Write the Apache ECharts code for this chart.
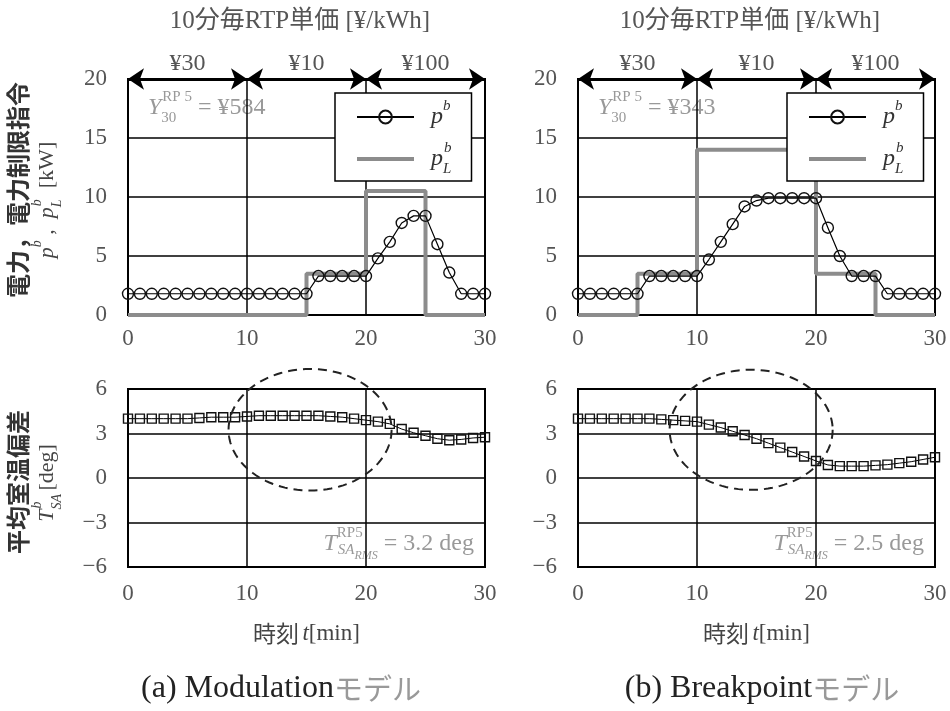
<!DOCTYPE html>
<html><head><meta charset="utf-8">
<script src="https://cdn.jsdelivr.net/npm/echarts@6/dist/echarts.min.js"></script>
<style>html,body{margin:0;padding:0;background:#fff}#c{width:950px;height:711px}</style>
</head><body><div id="c"></div>
<script>
// ---------- data ----------
const minutes = [0,1,2,3,4,5,6,7,8,9,10,11,12,13,14,15,16,17,18,19,20,21,22,23,24,25,26,27,28,29,30];
const pbModulation = [1.8,1.8,1.8,1.8,1.8,1.8,1.8,1.8,1.8,1.8,1.8,1.8,1.8,1.8,1.8,1.8,3.3,3.3,3.3,3.3,3.3,4.8,6.2,7.8,8.4,8.4,6.0,3.6,1.8,1.8,1.8];
const pbBreakpoint = [1.8,1.8,1.8,1.8,1.8,1.8,3.3,3.3,3.3,3.3,3.3,4.7,6.2,7.7,9.2,9.7,9.9,9.9,9.9,9.9,9.9,7.4,5.0,3.3,3.3,3.3,1.8,1.8,1.8,1.8,1.8];
const limitTimesModulation = [0,15,20,25,30];
const limitModulation = [0,3.5,10.5,0,0];
const limitTimesBreakpoint = [0,5,10,20,25,30];
const limitBreakpoint = [0,3.5,14,3.5,0,0];
const tsaModulation = [4.0,4.0,4.0,4.0,4.0,4.0,4.05,4.1,4.1,4.1,4.15,4.2,4.2,4.2,4.2,4.2,4.2,4.15,4.1,4.0,3.9,3.8,3.65,3.3,3.05,2.85,2.65,2.55,2.6,2.7,2.75];
const tsaBreakpoint = [4.0,4.0,4.0,4.0,4.0,4.0,4.0,3.95,3.9,3.85,3.8,3.6,3.4,3.15,2.9,2.65,2.35,2.05,1.75,1.45,1.15,0.88,0.8,0.8,0.8,0.85,0.9,1.0,1.1,1.25,1.4];
const priceBounds = [0,10,20,30];
const priceLabels = ['¥30','¥10','¥100'];
const costLabels = ['¥584','¥343'];
const rmsLabels = ['3.2 deg','2.5 deg'];
const captions = [['(a) Modulation','モデル'],['(b) Breakpoint','モデル']];
// dashed ellipse annotations: [centre t, centre T, radius t, radius T]
const ellipseModulation = [15.3, 3.25, 6.85, 4.1];
const ellipseBreakpoint = [14.55, 3.25, 6.85, 4.05];
const timeAxis = {min:0, max:30, interval:10};
const powerAxis = {min:0, max:20, interval:5};
const tempAxis = {min:-6, max:6, interval:3};

// ---------- styles ----------
const SERIF = '"Liberation Serif", "DejaVu Serif", "Noto Sans CJK JP", serif';
const CJK = '"Noto Sans CJK JP", sans-serif';

function mathRich(size, color) {
  const lh = size + 12, s = Math.round(size*0.62), ss = Math.round(size*0.52);
  const c = {color, fill:color, align:'left'};
  return {
    m: Object.assign({fontFamily:SERIF, fontStyle:'italic', fontSize:size, lineHeight:lh}, c),
    r: Object.assign({fontFamily:SERIF, fontSize:size, lineHeight:lh}, c),
    j: Object.assign({fontFamily:CJK, fontSize:size, lineHeight:lh}, c),
    sup: Object.assign({fontFamily:SERIF, fontStyle:'italic', fontSize:s, verticalAlign:'top', lineHeight:s+2}, c),
    supr: Object.assign({fontFamily:SERIF, fontSize:s, verticalAlign:'top', lineHeight:s+2}, c),
    supzr: Object.assign({fontFamily:SERIF, fontSize:s, verticalAlign:'top', lineHeight:s+2, width:1}, c),
    subz: Object.assign({fontFamily:SERIF, fontStyle:'italic', fontSize:s, verticalAlign:'bottom', lineHeight:s+2, width:1}, c),
    subzr: Object.assign({fontFamily:SERIF, fontSize:s, verticalAlign:'bottom', lineHeight:s+2, width:1}, c),
    sub: Object.assign({fontFamily:SERIF, fontStyle:'italic', fontSize:s, verticalAlign:'bottom', lineHeight:s+2, padding:[0,0,4,0]}, c),
    subsub: Object.assign({fontFamily:SERIF, fontStyle:'italic', fontSize:ss, verticalAlign:'bottom', lineHeight:ss+2}, c)
  };
}

const gridsPx = [
  {left:128, top:79, width:357, height:236},
  {left:578, top:79, width:357, height:236},
  {left:128, top:389, width:357, height:178},
  {left:578, top:389, width:357, height:178}
];

function xAxisFor(i) {
  const bottom = i >= 2;
  return Object.assign({
    type:'value', gridIndex:i,
    axisLine:{show:false}, axisTick:{show:false},
    splitLine:{show:true, lineStyle:{color:'#000', width:1.5}},
    axisLabel:{fontFamily:SERIF, fontSize:23, color:'#555', margin: bottom ? 15 : 12},
    name: bottom ? '{j|時刻} {m|t}{r|[min]}' : '',
    nameLocation:'middle', nameGap:49,
    nameTextStyle:{rich: mathRich(23, '#444')}
  }, timeAxis);
}
function yAxisFor(i) {
  const top = i < 2;
  return Object.assign({
    type:'value', gridIndex:i,
    axisLine:{show:false}, axisTick:{show:false},
    splitLine:{show:true, lineStyle:{color:'#000', width:1.5}},
    axisLabel:{fontFamily:SERIF, fontSize:23, color:'#555', margin:21,
      formatter: v => String(v).replace('-', '−')}
  }, top ? powerAxis : tempAxis);
}

function pair(xs, ys) { return xs.map((x, k) => [x, ys[k]]); }

function limitSeries(i, xs, ys) {
  return {type:'line', name:'pLb', xAxisIndex:i, yAxisIndex:i, data:pair(xs, ys),
    step:'end', symbol:'none', z:3,
    lineStyle:{color:'#8c8c8c', width:4}, itemStyle:{color:'#8c8c8c'}};
}
function powerSeries(i, ys) {
  return {type:'line', name:'pb', xAxisIndex:i, yAxisIndex:i, data:pair(minutes, ys),
    symbol:'circle', symbolSize:11, z:4,
    lineStyle:{color:'#000', width:1.2},
    itemStyle:{color:'rgba(255,255,255,0)', borderColor:'#111', borderWidth:1.4},
    markLine:{
      silent:true, symbol:['arrow','arrow'], symbolSize:16, animation:false,
      lineStyle:{color:'#000', width:3, type:'solid'},
      label:{show:true, position:'insideMiddleTop', distance:3, fontFamily:SERIF, fontSize:24, color:'#555',
        formatter: p => p.name},
      data: priceLabels.map((lab, k) => [
        {coord:[priceBounds[k], powerAxis.max], name:lab},
        {coord:[priceBounds[k+1], powerAxis.max]}
      ])
    }};
}
function tempSeries(i, ys) {
  return {type:'line', xAxisIndex:i, yAxisIndex:i, data:pair(minutes, ys),
    symbol:'rect', symbolSize:9, z:4,
    lineStyle:{color:'#000', width:1},
    itemStyle:{color:'rgba(255,255,255,0)', borderColor:'#111', borderWidth:1.4}};
}
function ellipseSeries(i, e) {
  return {type:'custom', xAxisIndex:i, yAxisIndex:i, clip:false, silent:true, z:6,
    data:[e], encode:{x:0, y:1},
    renderItem:(params, api) => {
      const c = api.coord([api.value(0), api.value(1)]);
      const s = api.size([api.value(2), api.value(3)]);
      const pts = [];
      for (let k = 0; k < 120; k++) {
        const a = k / 120 * 2 * Math.PI;
        pts.push([c[0] + s[0]*Math.cos(a), c[1] + s[1]*Math.sin(a)]);
      }
      return {type:'polygon', shape:{points:pts},
        style:{fill:'none', stroke:'#222', lineWidth:2, lineDash:[9,6]}};
    }};
}

const legendRich = mathRich(24, '#333');
function legendFor(left) {
  return {left, top:93, orient:'vertical', selectedMode:false,
    data:[{name:'pb'},
          {name:'pLb', itemStyle:{color:'rgba(0,0,0,0)', borderWidth:0, opacity:0}, lineStyle:{width:4, color:'#8c8c8c'}}],
    backgroundColor:'#fff', borderColor:'#000', borderWidth:1.5, borderRadius:0,
    padding:[6, 20, 4, 20], itemGap:12, itemWidth:57, itemHeight:16,
    textStyle:{rich:legendRich, padding:[0,0,0,12]},
    formatter: n => n === 'pb' ? '{m|p}{sup|b}' : '{m|p}{subz|L}{sup|b}'};
}

function titleFor(x) {
  return {text:'10分毎RTP単価 [¥/kWh]', left:x, top:9, textAlign:'center', padding:0,
    textStyle:{fontFamily:SERIF, fontSize:25, fontWeight:'normal', color:'#555'}};
}

const annRich = mathRich(24, '#999');

const graphic = [
  // y-axis titles
  {type:'text', x:18, y:190, rotation:Math.PI/2,
    style:{text:'電力，電力制限指令', fontFamily:CJK, fontSize:24, fontWeight:'bold', fill:'#333', align:'center', verticalAlign:'middle'}},
  {type:'text', x:47, y:200, rotation:Math.PI/2,
    style:{text:'{m|p}{sup|b}{r| ,  }{m|p}{subz|L}{sup|b}{r|  [kW]}', rich:mathRich(22, '#444'), align:'center', verticalAlign:'middle'}},
  {type:'text', x:18, y:482, rotation:Math.PI/2,
    style:{text:'平均室温偏差', fontFamily:CJK, fontSize:24, fontWeight:'bold', fill:'#333', align:'center', verticalAlign:'middle'}},
  {type:'text', x:47, y:483, rotation:Math.PI/2,
    style:{text:'{m|T}{subz|SA}{sup|b}{r|  [deg]}', rich:mathRich(22, '#444'), align:'center', verticalAlign:'middle'}},
  // cost annotations
  ...costLabels.map((c, k) => ({type:'text', x:[148, 598][k], y:108,
    style:{text:'{m|Y}{subzr|30}{supr|RP 5}{r| = ' + c + '}', rich:annRich, align:'left', verticalAlign:'middle'}})),
  // RMS annotations
  ...rmsLabels.map((c, k) => ({type:'text', x:[474, 924][k], y:544,
    style:{text:'{m|T}{supzr|RP5}{sub|SA}{subsub|RMS}{r| = ' + c + '}', rich:annRich, align:'right', verticalAlign:'middle'}})),
  // captions
  ...captions.map((c, k) => ({type:'text', x:[281, 762][k], y:689,
    style:{text:'{a|' + c[0] + '}{b|' + c[1] + '}', align:'center', verticalAlign:'middle',
      rich:{a:{fontFamily:SERIF, fontSize:32, fill:'#222'}, b:{fontFamily:CJK, fontSize:29, fill:'#999'}}}}))
];

const chart = echarts.init(document.getElementById('c'), null, {renderer:'canvas'});
chart.setOption({
  animation:false,
  backgroundColor:'#fff',
  title:[titleFor(300), titleFor(750)],
  legend:[legendFor(335), legendFor(787)],
  grid: gridsPx.map(g => Object.assign({show:true, borderColor:'#000', borderWidth:2, backgroundColor:'transparent'}, g)),
  xAxis:[0,1,2,3].map(xAxisFor),
  yAxis:[0,1,2,3].map(yAxisFor),
  series:[
    limitSeries(0, limitTimesModulation, limitModulation),
    powerSeries(0, pbModulation),
    limitSeries(1, limitTimesBreakpoint, limitBreakpoint),
    powerSeries(1, pbBreakpoint),
    tempSeries(2, tsaModulation),
    tempSeries(3, tsaBreakpoint),
    ellipseSeries(2, ellipseModulation),
    ellipseSeries(3, ellipseBreakpoint)
  ],
  graphic
});
</script></body></html>
